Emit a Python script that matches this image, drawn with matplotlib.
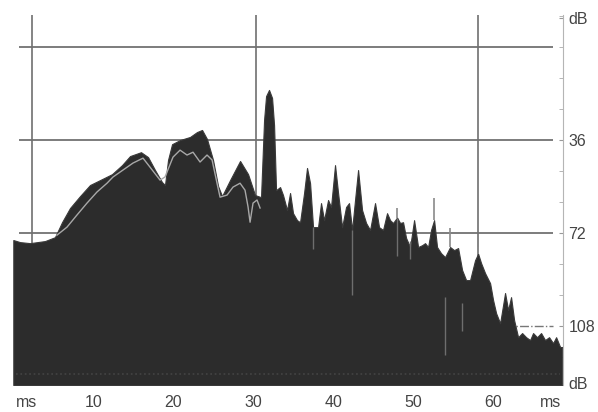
import numpy as np
import matplotlib
matplotlib.use('Agg')
import matplotlib.pyplot as plt
from matplotlib.ticker import MultipleLocator

plt.rcParams['font.family'] = ['Liberation Sans', 'DejaVu Sans']

# ===== data (time in ms, level in dB below peak) =====
env_ms = [0.0, 0.84, 2.09, 3.96, 5.21, 6.09, 7.09, 8.34, 9.59, 10.84, 12.34, 13.59,
          14.59, 15.96, 16.84, 17.71, 18.59, 18.96, 19.34, 19.84, 20.84, 22.09, 22.96,
          23.59, 24.21, 24.96, 25.59, 26.09, 27.09, 28.34, 29.34, 30.21, 30.96, 31.34,
          31.59, 31.96, 32.34, 32.59, 32.84, 33.34, 33.71, 34.21, 34.59, 34.96, 35.46,
          35.84, 36.34, 36.71, 37.09, 37.46, 38.09, 38.46, 38.84, 39.34, 39.71, 40.21,
          40.59, 41.09, 41.59, 41.96, 42.34, 42.71, 43.09, 43.59, 44.09, 44.59, 45.21,
          45.71, 46.21, 46.71, 47.09, 47.46, 47.96, 48.34, 48.71, 49.09, 49.59, 50.09,
          50.59, 51.09, 51.46, 51.84, 52.21, 52.59, 52.96, 53.46, 53.96, 54.59, 55.09,
          55.59, 56.09, 56.59, 57.09, 57.71, 58.09, 58.46, 58.96, 59.59, 59.96, 60.34,
          60.84, 61.46, 61.84, 62.21, 62.59, 63.09, 63.59, 64.09, 64.59, 64.96, 65.46,
          65.96, 66.46, 66.96, 67.46, 67.84, 68.34, 68.6]
env_db = [74.7, 75.5, 75.9, 75.1, 73.6, 67.8, 62.3, 57.7, 53.4, 51.5, 49.2, 45.7,
          42.2, 40.7, 42.6, 47.6, 52.3, 53.4, 43.7, 37.6, 36.0, 34.8, 32.9,
          32.1, 35.6, 43.7, 53.8, 57.7, 51.5, 44.1, 49.2, 57.3, 58.1, 28.3,
          19.0, 16.6, 19.7, 30.2, 55.4, 54.2, 57.3, 63.1, 56.5, 64.3, 67.0,
          67.8, 56.5, 46.8, 52.7, 69.7, 69.7, 60.4, 67.0, 59.2, 61.9, 45.7,
          56.5, 69.7, 61.9, 60.4, 70.8, 59.2, 47.6, 63.1, 68.1, 70.8, 60.4,
          69.7, 70.8, 64.3, 67.0, 68.1, 66.0, 68.1, 67.8, 73.9, 77.4, 67.0,
          77.4, 76.7, 75.9, 77.4, 70.8, 67.0, 77.4, 79.8, 81.3, 77.4, 78.6,
          77.8, 86.3, 90.2, 90.2, 82.5, 80.0, 83.6, 87.5, 91.4, 97.9, 103.0,
          106.9, 95.2, 101.8, 96.8, 105.7, 112.3, 110.7, 112.3, 113.4, 110.7, 112.3,
          110.7, 113.4, 112.3, 114.6, 112.3, 116.1, 116.1]

# lighter (second) trace in the early part
lite_ms = [5.46, 6.71, 7.96, 9.21, 10.46, 11.71, 12.46, 13.71, 14.96, 16.21, 17.09,
           18.34, 18.96, 19.96, 20.84, 21.71, 22.46, 23.34, 24.21, 24.84, 25.46, 25.84,
           26.71, 27.46, 28.34, 28.96, 29.34, 29.59, 29.96, 30.46, 30.84]
lite_db = [72.8, 69.7, 65.0, 60.4, 56.1, 52.7, 50.3, 47.6, 44.9, 43.0, 46.5,
           51.5, 50.3, 42.6, 39.9, 41.8, 40.7, 44.5, 41.8, 43.7, 52.7, 58.1,
           57.3, 54.2, 52.7, 55.4, 61.9, 67.8, 60.4, 59.2, 62.3]

# thin light spikes above the dark envelope
spike_ms = [47.96, 52.59, 54.59, 58.09]
spike_top = [62.3, 58.5, 70.1, 77.4]
spike_base = [66.0, 67.0, 77.4, 80.0]

# light streaks inside the dark area
streak_ms = [37.46, 42.34, 47.96, 49.59, 53.96, 56.09]
streak_top = [69.7, 70.8, 66.0, 75.0, 96.8, 99.0]
streak_bot = [78.0, 96.0, 81.0, 82.0, 119.0, 110.0]

x_ticks = [10, 20, 30, 40, 50, 60]
y_ticks = [-11.2, 36, 72, 108, 130.1]
y_labels = ['dB', '36', '72', '108', 'dB']
h_grid = [0, 36, 72]
v_grid = [2.3, 30.3, 58.1]

XMIN, XMAX = 0.0, 68.7
YTOP, YBOT = -12.4, 130.8

fig = plt.figure(figsize=(5.98, 4.12), dpi=100)
ax = fig.add_axes([13.3 / 598, 1 - 385 / 412, (563 - 13.3) / 598, 370 / 412])
ax.set_xlim(XMIN, XMAX)
ax.set_ylim(YBOT, YTOP)

# grid / cursor lines behind the data
for g in h_grid:
    ax.hlines(g, 0.66, 67.46, color='#666666', linewidth=1.2, zorder=1)
ax.hlines(108, 0.66, 67.46, color='#777777', linewidth=1.0, linestyles='-.', zorder=1)
for v in v_grid:
    ax.axvline(v, color='#707070', linewidth=1.2, zorder=1)

# dark decay envelope
ax.fill_between(env_ms, env_db, YBOT, color='#2c2c2c', linewidth=0.8,
                edgecolor='#3a3a3a', zorder=2)
ax.plot(lite_ms, lite_db, color='#a8a8a8', linewidth=1.0, zorder=3)
ax.vlines(spike_ms, spike_top, spike_base, color='#8a8a8a', linewidth=1.2, zorder=3)
ax.vlines(streak_ms, streak_top, streak_bot, color='#6e6e6e', linewidth=1.0, zorder=3)
ax.hlines(126.5, 0.3, 68.3, color='#444444', linewidth=1.2, linestyles=':', zorder=3)

# axes styling
for s in ['top', 'left', 'bottom']:
    ax.spines[s].set_visible(False)
ax.spines['right'].set_color('#b5b5b5')
ax.spines['right'].set_linewidth(0.8)

ax.set_xticks(x_ticks)
ax.set_xticklabels([str(t) for t in x_ticks])
ax.tick_params(axis='x', direction='in', length=4, width=1.2, color='#d8d8d8',
               pad=7, labelsize=11.5, labelcolor='#444444')

ax.yaxis.tick_right()
ax.set_yticks(y_ticks)
ax.set_yticklabels(y_labels)
ax.yaxis.set_minor_locator(MultipleLocator(12))
ax.tick_params(axis='y', which='major', direction='in', length=3, color='#999999',
               pad=4, labelsize=11.5, labelcolor='#444444')
ax.tick_params(axis='y', which='minor', direction='in', length=3, color='#aaaaaa')

for xm in [1.7, 67.1]:
    ax.text(xm, 137.6, 'ms', ha='center', va='center', fontsize=11.5,
            color='#444444', clip_on=False)

plt.savefig('out.png', dpi=100, facecolor='white')
plt.close()
